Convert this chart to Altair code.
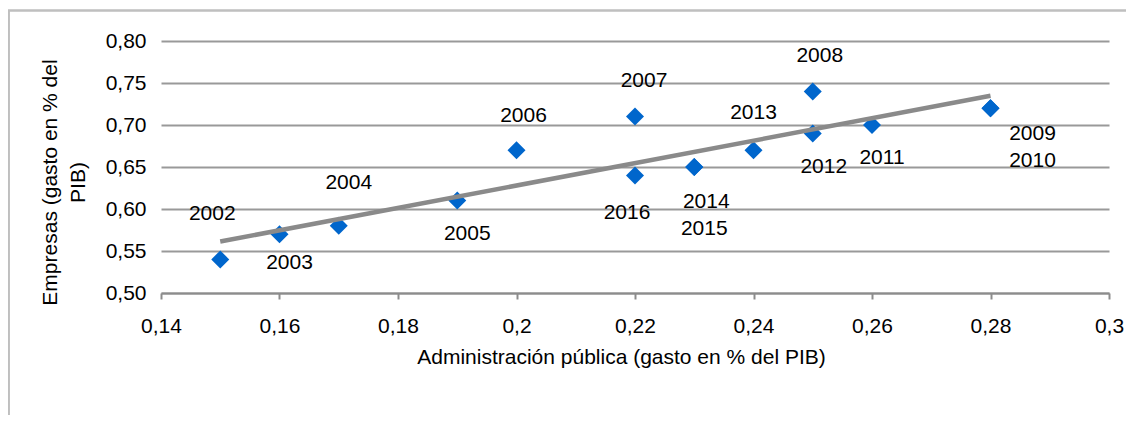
import altair as alt
import pandas as pd

# ---- data ----
years = ["2002", "2003", "2004", "2005", "2006", "2007", "2008", "2009",
         "2010", "2011", "2012", "2013", "2014", "2015", "2016"]
admin_publica = [0.15, 0.16, 0.17, 0.19, 0.20, 0.22, 0.25, 0.28,
                 0.28, 0.26, 0.25, 0.24, 0.23, 0.23, 0.22]
empresas = [0.54, 0.57, 0.58, 0.61, 0.67, 0.71, 0.74, 0.72,
            0.72, 0.70, 0.69, 0.67, 0.65, 0.65, 0.64]
x_ticks = [0.14, 0.16, 0.18, 0.20, 0.22, 0.24, 0.26, 0.28, 0.30]
y_ticks = [0.50, 0.55, 0.60, 0.65, 0.70, 0.75, 0.80]
x_title = "Administración pública (gasto en % del PIB)"
y_title = ["Empresas (gasto en % del", "PIB)"]

# ---- label placement (pixel offsets from each point) ----
label_offsets = {
    "2002": (-8, -45), "2003": (10, 29), "2004": (10, -43), "2005": (10, 33),
    "2006": (7, -34), "2007": (9, -36), "2008": (7, -35), "2009": (42, 26),
    "2010": (42, 53), "2011": (10, 33), "2012": (11, 34), "2013": (0, -37),
    "2014": (12, 35), "2015": (10, 62), "2016": (-8, 38),
}

df = pd.DataFrame({"year": years, "x": admin_publica, "y": empresas})

FONT = "Liberation Sans"
FS = 21
W, H = 948, 252

x_enc = alt.X(
    "x:Q",
    scale=alt.Scale(domain=[0.14, 0.30], nice=False, zero=False),
    axis=alt.Axis(
        values=x_ticks,
        labelExpr="replace(format(datum.value, '.2~f'), '.', ',')",
        grid=False, domain=True, domainColor="#8c8c8c", domainWidth=2,
        ticks=True, tickColor="#8c8c8c", tickWidth=2, tickSize=6,
        labelPadding=16, labelFontSize=FS, labelFont=FONT, labelColor="#000000",
        labelFlush=False, labelOverlap=False,
        title=x_title, titleFontSize=FS, titleFont=FONT, titleFontWeight="normal",
        titleColor="#000000", titleX=460, titleY=64, titleAlign="center",
        titleBaseline="middle",
    ),
)
y_enc = alt.Y(
    "y:Q",
    scale=alt.Scale(domain=[0.50, 0.80], nice=False, zero=False),
    axis=alt.Axis(
        values=y_ticks,
        labelExpr="replace(format(datum.value, '.2f'), '.', ',')",
        grid=True, gridColor="#999999", gridWidth=2,
        domain=False, ticks=False,
        labelPadding=15, labelFontSize=FS, labelFont=FONT, labelColor="#000000",
        labelOverlap=False,
        title=y_title, titleFontSize=FS, titleFont=FONT, titleFontWeight="normal",
        titleColor="#000000", titleAngle=270, titleX=-111, titleY=141,
        titleAlign="center", titleBaseline="middle", titleLineHeight=28,
    ),
)

base = alt.Chart(df)

border = alt.Chart(pd.DataFrame({"a": [0]})).mark_rect(
    fill="transparent", stroke="#bfbfbf", strokeWidth=2.5
).encode(
    x=alt.value(-152.3), x2=alt.value(1300),
    y=alt.value(-30.5), y2=alt.value(700),
)

points = base.mark_point(
    shape="diamond", filled=True, size=324, color="#0066cc", opacity=1
).encode(x=x_enc, y=y_enc)

trend = base.transform_regression("x", "y").mark_line(
    color="#8a8a8a", strokeWidth=4.5
).encode(x=x_enc, y=y_enc)

labels = []
for yr in years:
    dx, dy = label_offsets[yr]
    labels.append(
        base.transform_filter(alt.datum.year == yr).mark_text(
            dx=dx, dy=dy, fontSize=FS, font=FONT, color="#000000",
            align="center", baseline="middle",
        ).encode(x=x_enc, y=y_enc, text="year:N")
    )

chart = alt.layer(border, points, trend, *labels).properties(
    width=W, height=H,
    autosize=alt.AutoSizeParams(type="none"),
    padding={"left": 153, "top": 33, "right": 17, "bottom": 122},
    background="white",
).configure_view(stroke="transparent")

chart.save("out.html", embed_options={"renderer": "svg", "actions": False})
